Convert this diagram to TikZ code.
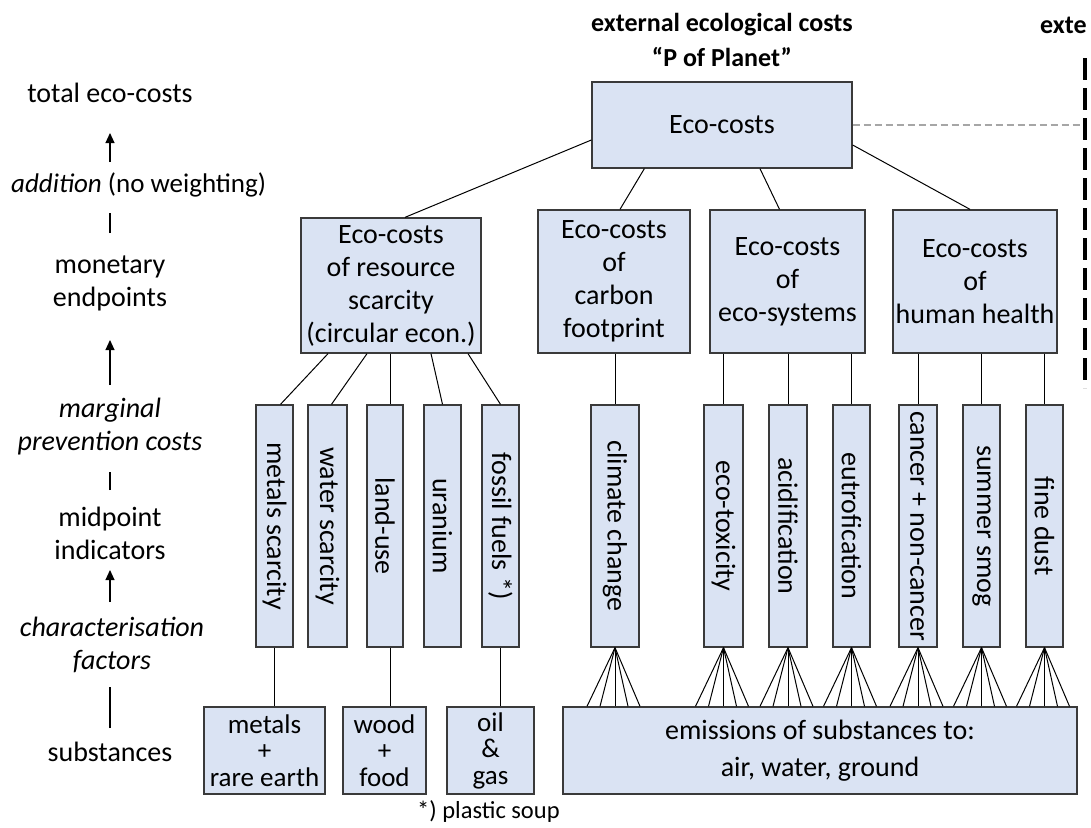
\documentclass[tikz,border=0pt]{standalone}
\usepackage{fontspec}
\setmainfont{Carlito}
\usetikzlibrary{calc,arrows.meta}
\definecolor{boxfill}{HTML}{DAE3F3}
\definecolor{boxline}{HTML}{3A3A3A}
\definecolor{dashgrey}{HTML}{A6A6A6}

\begin{document}
\begin{tikzpicture}[x=1pt,y=-1pt,
  every node/.style={font=\fontsize{28}{33}\selectfont, inner sep=0pt, align=center},
  box/.style={draw=boxline, line width=1.3pt, fill=boxfill},
  vbox/.style={box, minimum height=242pt},
  sbox/.style={box, minimum height=87pt, font=\fontsize{27}{26.5}\selectfont},
  conn/.style={line width=1pt, black},
  uparrow/.style={line width=1.1pt, -{Triangle[length=10pt,width=9pt]}},
  tick/.style={line width=1.1pt},
  title/.style={font=\bfseries\fontsize{26}{31}\selectfont}]

\useasboundingbox (0,0) rectangle (1091,827);

% headings
\node[title] (head1) at (722,25) {external ecological costs};
\node[title] (head2) at (722,57) {“P of Planet”};
\node[title, anchor=west] (head3) at (1040,25) {exte};

% top of the tree
\node[box, minimum width=260pt, minimum height=86pt] (top) at (722,125) {Eco-costs};

% monetary endpoints
\node[box, minimum width=180pt, minimum height=135pt] (res) at (391,285.5)
  {Eco-costs\\of resource\\scarcity\\(circular econ.)};
\node[box, minimum width=152pt, minimum height=143pt] (carb) at (614,281.5)
  {Eco-costs\\of\\carbon\\footprint};
\node[box, minimum width=155pt, minimum height=143pt] (ecos) at (787.5,281.5)
  {Eco-costs\\of\\eco-systems};
\node[box, minimum width=164pt, minimum height=143pt] (hum) at (975,281.5)
  {Eco-costs\\of\\human health};

% midpoint indicators
\node[vbox, minimum width=37pt] (ms) at (274.5,526) {\rotatebox{-90}{metals scarcity}};
\node[vbox, minimum width=39pt] (ws) at (327.5,526) {\rotatebox{-90}{water scarcity}};
\node[vbox, minimum width=36pt] (lu) at (385,526) {\rotatebox{-90}{land-use}};
\node[vbox, minimum width=37pt] (ur) at (442.5,526) {\rotatebox{-90}{uranium}};
\node[vbox, minimum width=37pt] (ff) at (500.5,526) {\rotatebox{-90}{fossil fuels *)}};
\node[vbox, minimum width=48pt] (cc) at (615,526) {\rotatebox{-90}{climate change}};
\node[vbox, minimum width=39pt] (et) at (723.5,526) {\rotatebox{-90}{eco-toxicity}};
\node[vbox, minimum width=38pt] (ac) at (788,526) {\rotatebox{-90}{acidification}};
\node[vbox, minimum width=37pt] (eu) at (851.5,526) {\rotatebox{-90}{eutrofication}};
\node[vbox, minimum width=38pt] (ca) at (918,526) {\rotatebox{-90}{cancer + non-cancer}};
\node[vbox, minimum width=37pt] (sm) at (981.5,526) {\rotatebox{-90}{summer smog}};
\node[vbox, minimum width=37pt] (fd) at (1044.5,526) {\rotatebox{-90}{fine dust}};

% substances
\node[sbox, minimum width=121pt] (metals) at (264.5,750.5) {metals\\+\\rare earth};
\node[sbox, minimum width=83pt] (wood) at (384.5,750.5) {wood\\+\\food};
\node[sbox, minimum width=87pt] (oil) at (490.5,750.5) {oil\\\&\\gas};
\node[box, minimum width=514pt, minimum height=87pt, font=\fontsize{28}{37}\selectfont]
  (emis) at (820,750.5) {emissions of substances to:\\air, water, ground};
\node[anchor=west, font=\fontsize{24.5}{29}\selectfont] (note) at (417,812) {*) plastic soup};

% tree connectors
\draw[conn] ([yshift=-15pt]top.west) -- ([xshift=14pt]res.north);
\draw[conn] ([xshift=53pt]top.south west) -- ([xshift=6pt]carb.north);
\draw[conn] ([xshift=38pt]top.south) -- ([xshift=-8pt]ecos.north);
\draw[conn] ([yshift=-20pt]top.east) -- ([xshift=-5pt]hum.north);

\draw[conn] ([xshift=-63pt]res.south) -- ([xshift=6pt]ms.north);
\draw[conn] ([xshift=-24pt]res.south) -- ([xshift=4pt]ws.north);
\draw[conn] ([xshift=5pt]lu.north |- res.south) -- ([xshift=5pt]lu.north);
\draw[conn] ([xshift=40pt]res.south) -- (ur.north);
\draw[conn] ([xshift=77pt]res.south) -- (ff.north);

\draw[conn] (cc.north |- carb.south) -- (cc.north);
\foreach \b in {et,ac,eu}{\draw[conn] (\b.north |- ecos.south) -- (\b.north);}
\foreach \b in {ca,sm,fd}{\draw[conn] (\b.north |- hum.south) -- (\b.north);}

\draw[conn] (ms.south) -- (ms.south |- metals.north);
\draw[conn] ([xshift=5pt]lu.south) -- ([xshift=5pt]lu.south |- wood.north);
\draw[conn] (ff.south) -- (ff.south |- oil.north);

\foreach \b in {cc,et,ac,eu,ca,sm,fd}{
  \foreach \dx in {-28,-15,0,13,25}{
    \draw[conn] (\b.south) -- ($(\b.south |- emis.north)+(\dx,0)$);
  }
}

% boundary of the diagram
\coordinate (gd) at (1083,125);
\coordinate (vt) at (1085,58);
\coordinate (vb) at (1085,388);
\draw[dashgrey, line width=1.3pt, dash pattern=on 7pt off 4pt] (top.east) -- (gd);
\draw[black, line width=3.5pt, dash pattern=on 22pt off 8pt] (vt) -- (vb);

% levels of the method
\node (l1) at (110,93) {total eco-costs};
\node[anchor=west, font=\fontsize{27}{32}\selectfont] (l2) at (11,185) {\textit{addition} (no weighting)};
\node (l3) at (110,283.5) {monetary\\endpoints};
\node (l4) at (110,427) {\textit{marginal}\\\textit{prevention costs}};
\node (l5) at (110,533.5) {midpoint\\indicators};
\node (l6) at (112,645) {\textit{characterisation}\\\textit{factors}};
\node (l7) at (110,752) {substances};

\coordinate (a1s) at (110,162); \coordinate (a1e) at (110,133);
\coordinate (t1s) at (110,233); \coordinate (t1e) at (110,213);
\coordinate (a2s) at (110,385); \coordinate (a2e) at (110,340);
\coordinate (t2s) at (110,490); \coordinate (t2e) at (110,472);
\coordinate (a3s) at (110,602); \coordinate (a3e) at (110,570);
\coordinate (t3s) at (110,728); \coordinate (t3e) at (110,687);
\draw[uparrow] (a1s) -- (a1e);
\draw[tick] (t1s) -- (t1e);
\draw[uparrow] (a2s) -- (a2e);
\draw[tick] (t2s) -- (t2e);
\draw[uparrow] (a3s) -- (a3e);
\draw[tick] (t3s) -- (t3e);
\end{tikzpicture}
\end{document}
